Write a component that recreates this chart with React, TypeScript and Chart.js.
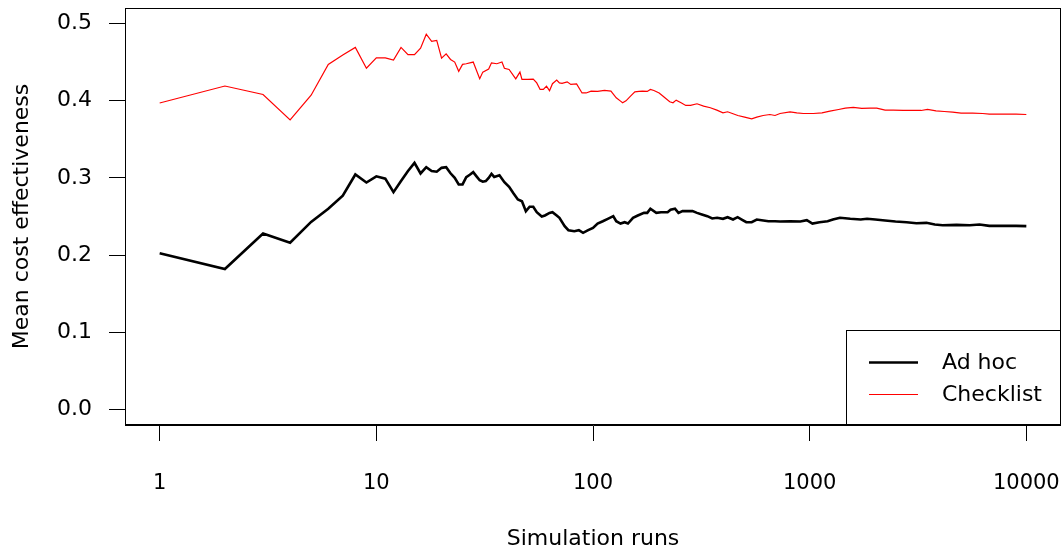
import React, { useEffect, useRef } from "react";
import { Chart, registerables } from "chart.js";

Chart.register(...registerables);

const adHocRuns = [1, 2, 3, 4, 5, 6, 7, 8, 9, 10, 11, 12, 13, 14, 15, 16, 17, 18, 19, 20, 21, 22, 23, 24, 25, 26, 27, 28, 29, 30, 31, 32, 33, 34, 35, 37, 39, 41, 43, 45, 47, 49, 51, 53, 55, 58, 60, 63, 65, 68, 70, 74, 77, 82, 86, 90, 95, 100, 105, 111, 117, 124, 128, 134, 140, 145, 153, 161, 172, 178, 184, 196, 206, 221, 228, 239, 248, 259, 273, 288, 302, 318, 337, 355, 374, 398, 418, 443, 465, 486, 510, 540, 570, 600, 645, 692, 730, 812, 905, 970, 1030, 1110, 1210, 1280, 1380, 1540, 1720, 1840, 2010, 2230, 2490, 2800, 3110, 3460, 3780, 4110, 4760, 5480, 6080, 6750, 7780, 8970, 10000];
const adHocValues = [0.2025, 0.182, 0.228, 0.216, 0.243, 0.26, 0.277, 0.3044, 0.294, 0.302, 0.299, 0.2815, 0.296, 0.309, 0.3195, 0.3057, 0.3139, 0.309, 0.308, 0.313, 0.3139, 0.306, 0.3, 0.2915, 0.2915, 0.301, 0.304, 0.3074, 0.302, 0.297, 0.295, 0.2958, 0.3, 0.3053, 0.3013, 0.3035, 0.2945, 0.2885, 0.2798, 0.272, 0.2698, 0.2569, 0.2626, 0.2626, 0.2556, 0.25, 0.2513, 0.2547, 0.2556, 0.2513, 0.2483, 0.2375, 0.2323, 0.231, 0.2323, 0.2288, 0.2323, 0.2353, 0.2409, 0.2439, 0.247, 0.2504, 0.2439, 0.2409, 0.2426, 0.2409, 0.2483, 0.2513, 0.2547, 0.2547, 0.26, 0.2547, 0.2556, 0.2556, 0.2587, 0.26, 0.2547, 0.257, 0.257, 0.257, 0.2547, 0.2526, 0.2504, 0.2474, 0.2483, 0.247, 0.2491, 0.2461, 0.2491, 0.2461, 0.2426, 0.2426, 0.2461, 0.2452, 0.2439, 0.2439, 0.2435, 0.2439, 0.2435, 0.2452, 0.2409, 0.2426, 0.2439, 0.2461, 0.2483, 0.247, 0.2461, 0.247, 0.2461, 0.2448, 0.2435, 0.2426, 0.2413, 0.2418, 0.2396, 0.2387, 0.2392, 0.2387, 0.2396, 0.2379, 0.2379, 0.2379, 0.2375];

const checklistRuns = [1, 2, 3, 4, 5, 6, 7, 8, 9, 10, 11, 12, 13, 14, 15, 16, 17, 18, 19, 20, 21, 22, 23, 24, 25, 26, 28, 30, 31, 33, 34, 36, 38, 39, 41, 44, 46, 47, 50, 53, 55, 57, 59, 61, 63, 65, 68, 70, 72, 76, 79, 84, 89, 93, 98, 105, 113, 121, 128, 134, 137, 142, 149, 156, 163, 169, 178, 184, 191, 202, 212, 226, 234, 242, 255, 268, 282, 302, 324, 348, 373, 398, 418, 443, 466, 501, 540, 570, 610, 655, 692, 730, 812, 872, 935, 1040, 1140, 1240, 1360, 1460, 1590, 1740, 1900, 2040, 2230, 2430, 2700, 3000, 3270, 3500, 3830, 4180, 4570, 5000, 5650, 6290, 6750, 7780, 8970, 10000];
const checklistValues = [0.397, 0.419, 0.408, 0.375, 0.407, 0.447, 0.459, 0.469, 0.442, 0.4555, 0.4555, 0.4525, 0.469, 0.4595, 0.4595, 0.468, 0.486, 0.4767, 0.478, 0.455, 0.4607, 0.4534, 0.45, 0.438, 0.447, 0.4478, 0.45, 0.4283, 0.437, 0.441, 0.449, 0.4478, 0.45, 0.442, 0.4404, 0.4283, 0.437, 0.4275, 0.4275, 0.428, 0.423, 0.4145, 0.4145, 0.4188, 0.413, 0.422, 0.4266, 0.423, 0.4223, 0.4244, 0.421, 0.4218, 0.41, 0.41, 0.4123, 0.412, 0.4132, 0.4123, 0.4037, 0.3994, 0.3972, 0.3998, 0.4058, 0.4115, 0.412, 0.4123, 0.412, 0.4145, 0.4132, 0.41, 0.405, 0.3986, 0.3972, 0.4007, 0.3972, 0.3938, 0.3938, 0.396, 0.3929, 0.3908, 0.3877, 0.3843, 0.3856, 0.383, 0.3808, 0.3787, 0.3765, 0.3787, 0.3808, 0.3821, 0.3808, 0.3834, 0.3856, 0.3843, 0.3834, 0.3834, 0.3843, 0.3864, 0.3886, 0.3903, 0.3912, 0.3899, 0.3903, 0.3903, 0.3877, 0.3877, 0.3873, 0.3873, 0.3873, 0.3886, 0.3869, 0.386, 0.3851, 0.3838, 0.3838, 0.3834, 0.3825, 0.3825, 0.3825, 0.3821];

const seriesLabels = ["Ad hoc", "Checklist"];
const xTickValues = [1, 10, 100, 1000, 10000];
const yTickValues = [0, 0.1, 0.2, 0.3, 0.4, 0.5];
const xTitle = "Simulation runs";
const yTitle = "Mean cost effectiveness";

const FONT = "'DejaVu Sans', sans-serif";

const boxAndLegend = {
  id: "boxAndLegend",
  afterDraw(chart: any) {
    const { ctx, chartArea } = chart;
    ctx.save();
    ctx.strokeStyle = "#000";
    ctx.lineWidth = 1;
    ctx.strokeRect(
      chartArea.left + 0.5,
      chartArea.top + 0.5,
      chartArea.right - chartArea.left - 1,
      chartArea.bottom - chartArea.top - 1
    );
    // legend box (bottom right)
    const lw = 215;
    const lh = 95;
    const lx = chartArea.right - lw;
    const ly = chartArea.bottom - lh;
    ctx.fillStyle = "#fff";
    ctx.fillRect(lx, ly, lw, lh);
    ctx.strokeRect(lx + 0.5, ly + 0.5, lw - 1, lh - 1);
    ctx.font = "22px " + FONT;
    ctx.textBaseline = "middle";
    ctx.textAlign = "left";
    chart.data.datasets.forEach((ds: any, i: number) => {
      const y = ly + 32.5 + i * 32;
      ctx.beginPath();
      ctx.strokeStyle = ds.borderColor;
      ctx.lineWidth = ds.borderWidth;
      ctx.moveTo(lx + 23, y);
      ctx.lineTo(lx + 72, y);
      ctx.stroke();
      ctx.fillStyle = "#000";
      ctx.fillText(ds.label, lx + 96, y + 1);
    });
    ctx.restore();
  },
};

const zeroPadding = (scale: any) => {
  scale.paddingLeft = 0;
  scale.paddingRight = 0;
  scale.paddingTop = 0;
  scale.paddingBottom = 0;
};

export default function App() {
  const canvasRef = useRef<HTMLCanvasElement | null>(null);

  useEffect(() => {
    if (!canvasRef.current) return;
    const chart = new Chart(canvasRef.current, {
      type: "line",
      data: {
        datasets: [
          {
            label: seriesLabels[0],
            data: adHocRuns.map((r, i) => ({ x: r, y: adHocValues[i] })),
            borderColor: "#000000",
            borderWidth: 2.6,
            pointRadius: 0,
            tension: 0,
          },
          {
            label: seriesLabels[1],
            data: checklistRuns.map((r, i) => ({ x: r, y: checklistValues[i] })),
            borderColor: "#ff0000",
            borderWidth: 1.2,
            pointRadius: 0,
            tension: 0,
          },
        ],
      },
      options: {
        animation: false,
        responsive: false,
        layout: { padding: { top: 8, right: 0, left: 0, bottom: 0 } },
        plugins: {
          legend: { display: false },
          tooltip: { enabled: false },
        },
        scales: {
          x: {
            type: "logarithmic",
            min: Math.pow(10, -0.16),
            max: Math.pow(10, 4.16),
            afterBuildTicks: (scale: any) => {
              scale.ticks = xTickValues.map((v) => ({ value: v }));
            },
            afterFit: (scale: any) => {
              scale.height = 127;
              zeroPadding(scale);
            },
            ticks: {
              autoSkip: false,
              maxRotation: 0,
              minRotation: 0,
              padding: 30,
              color: "#000",
              font: { family: FONT, size: 21 },
              callback: (v: any) => String(v),
            },
            grid: {
              drawOnChartArea: false,
              drawTicks: true,
              tickLength: 16,
              tickColor: "#000",
              tickWidth: 1,
            },
            border: { display: true, color: "#000", width: 1 },
            title: {
              display: true,
              text: xTitle,
              color: "#000",
              font: { family: FONT, size: 22 },
              padding: { top: 0, bottom: 0 },
            },
          },
          y: {
            type: "linear",
            min: -0.02,
            max: 0.52,
            afterBuildTicks: (scale: any) => {
              scale.ticks = yTickValues.map((v) => ({ value: v }));
            },
            afterFit: (scale: any) => {
              scale.width = 125;
              zeroPadding(scale);
            },
            ticks: {
              autoSkip: false,
              padding: 17,
              color: "#000",
              font: { family: FONT, size: 22 },
              callback: (v: any) => Number(v).toFixed(1),
            },
            grid: {
              drawOnChartArea: false,
              drawTicks: true,
              tickLength: 16,
              tickColor: "#000",
              tickWidth: 1,
            },
            border: { display: true, color: "#000", width: 1 },
            title: {
              display: true,
              text: yTitle,
              color: "#000",
              font: { family: FONT, size: 22 },
              padding: { top: 9, bottom: 0 },
            },
          },
        },
      },
      plugins: [boxAndLegend],
    } as any);
    return () => chart.destroy();
  }, []);

  return (
    <div style={{ position: "absolute", left: 0, top: 0, width: 1061, height: 552, background: "#fff" }}>
      <canvas ref={canvasRef} width={1061} height={552} style={{ display: "block" }} />
    </div>
  );
}
